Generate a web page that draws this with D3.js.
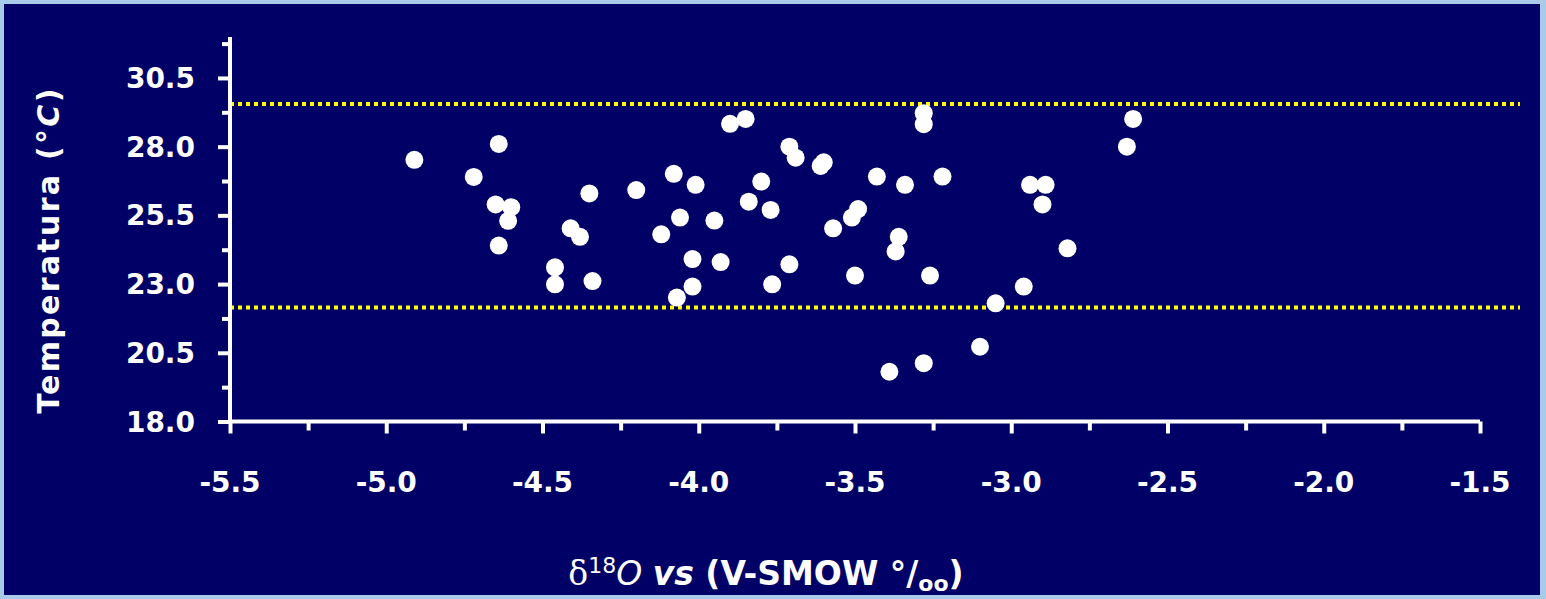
<!DOCTYPE html>
<html>
<head>
<meta charset="utf-8">
<script src="https://cdn.jsdelivr.net/npm/d3@7"></script>
<style>
  html, body { margin: 0; padding: 0; background: #a9cbe9; }
  svg { display: block; }
</style>
</head>
<body>
<svg id="chart" width="1546" height="599"></svg>
<script>
// ---- data ----
const d18O = [
  -4.91, -4.72, -4.64, -4.65, -4.60, -4.61, -4.64, -4.46, -4.46, -4.35,
  -4.34, -4.41, -4.38, -4.20, -4.08, -4.01, -4.06, -4.12, -3.95, -4.02,
  -3.93, -4.02, -4.07, -3.90, -3.85, -3.80, -3.84, -3.77, -3.765, -3.71,
  -3.69, -3.60, -3.61, -3.71, -3.43, -3.34, -3.22, -3.49, -3.51, -3.57,
  -3.36, -3.37, -3.50, -3.26, -3.28, -3.28, -2.61, -2.63, -2.94, -2.89,
  -2.90, -2.82, -2.96, -3.05, -3.10, -3.28, -3.39
];
const temperature = [
  27.52, 26.90, 28.10, 25.90, 25.80, 25.30, 24.40, 23.61, 22.99, 26.30,
  23.11, 25.03, 24.72, 26.42, 27.01, 26.61, 25.42, 24.81, 25.31, 23.91,
  23.80, 22.91, 22.51, 28.83, 29.01, 26.73, 26.00, 25.70, 22.99, 28.00,
  27.60, 27.43, 27.30, 23.72, 26.91, 26.61, 26.91, 25.73, 25.42, 25.03,
  24.72, 24.19, 23.31, 23.31, 29.22, 28.82, 29.01, 28.00, 26.61, 26.61,
  25.90, 24.30, 22.91, 22.30, 20.72, 20.12, 19.81
];
const xTickLabels = ["-5.5", "-5.0", "-4.5", "-4.0", "-3.5", "-3.0", "-2.5", "-2.0", "-1.5"];
const yTickLabels = ["18.0", "20.5", "23.0", "25.5", "28.0", "30.5"];
const thresholds = [29.55, 22.15];

// ---- layout ----
const svg = d3.select("#chart");
const plotLeft = 230, plotRight = 1480, plotTop = 43.6, plotBottom = 421.5;
const FONT = "'Comic Sans MS', 'DejaVu Sans', sans-serif";

svg.append("rect").attr("x", 4).attr("y", 4).attr("width", 1536).attr("height", 591)
  .attr("fill", "#000066");

const x = d3.scaleLinear().domain([-5.5, -1.5]).range([plotLeft, plotRight]);
const y = d3.scaleLinear().domain([18, 31.75]).range([plotBottom, plotTop]);

const g = svg.append("g");

// threshold dotted lines
g.selectAll("line.thr").data(thresholds).enter().append("line")
  .attr("class", "thr")
  .attr("x1", plotLeft).attr("x2", 1520)
  .attr("y1", d => y(d)).attr("y2", d => y(d))
  .attr("stroke", "#ffff00").attr("stroke-width", 4)
  .attr("stroke-dasharray", "4,4");

// points
const pts = d18O.map((v, i) => ({ x: v, y: temperature[i] }));
g.selectAll("circle.pt").data(pts).enter().append("circle")
  .attr("class", "pt")
  .attr("cx", d => x(d.x)).attr("cy", d => y(d.y)).attr("r", 9)
  .attr("fill", "#ffffff");

// x axis
const xMinor = d3.range(-5.5, -1.49, 0.25);
const xAxis = d3.axisBottom(x).tickValues(xMinor).tickSize(9).tickFormat("");
const gx = svg.append("g").attr("transform", `translate(0,${plotBottom})`).call(xAxis);
gx.select(".domain").attr("stroke", "#fff").attr("stroke-width", 4)
  .attr("d", `M${plotLeft},0H${plotRight}`);
gx.selectAll(".tick line").attr("stroke", "#fff").attr("stroke-width", 4)
  .attr("y2", (d) => Math.abs((d * 2) - Math.round(d * 2)) < 1e-6 ? 12 : 9);

svg.append("g").selectAll("text").data(xTickLabels).enter().append("text")
  .attr("x", d => x(+d)).attr("y", 492)
  .attr("text-anchor", "middle")
  .attr("fill", "#fff").attr("font-family", FONT).attr("font-weight", "bold")
  .attr("font-size", 28).text(d => d);

// y axis
const yMinor = d3.range(18, 31.76, 1.25);
const yAxis = d3.axisLeft(y).tickValues(yMinor).tickSize(8).tickFormat("");
const gy = svg.append("g").attr("transform", `translate(${plotLeft},0)`).call(yAxis);
gy.select(".domain").attr("stroke", "#fff").attr("stroke-width", 4)
  .attr("d", `M0,37V${plotBottom}`);
gy.selectAll(".tick line").attr("stroke", "#fff").attr("stroke-width", 4)
  .attr("x2", (d, i) => i % 2 === 0 ? -12 : -8);

svg.append("g").selectAll("text").data(yTickLabels).enter().append("text")
  .attr("x", 195).attr("y", d => y(+d) + 10)
  .attr("text-anchor", "end")
  .attr("fill", "#fff").attr("font-family", FONT).attr("font-weight", "bold")
  .attr("font-size", 28).text(d => d);

// y title
const yt = svg.append("text")
  .attr("transform", "translate(59,250) rotate(-90)")
  .attr("text-anchor", "middle")
  .attr("fill", "#fff").attr("font-family", FONT).attr("font-weight", "bold")
  .attr("font-size", 30).attr("letter-spacing", 2.3);
yt.append("tspan").text("Temperatura (°");
yt.append("tspan").attr("font-style", "italic").text("C");
yt.append("tspan").text(")");

// x title
const xt = svg.append("text")
  .attr("x", 766).attr("y", 585)
  .attr("text-anchor", "middle")
  .attr("fill", "#fff").attr("font-family", FONT).attr("font-weight", "bold")
  .attr("font-size", 33);
xt.append("tspan").attr("font-family", "'DejaVu Serif', serif").attr("font-weight", "normal").text("δ");
xt.append("tspan").attr("font-size", 22).attr("font-weight", "normal").attr("dy", -12).text("18");
xt.append("tspan").attr("font-style", "italic").attr("dy", 12).attr("font-weight", "normal").text("O ");
xt.append("tspan").attr("font-style", "italic").text("vs");
xt.append("tspan").text(" (V-SMOW °/");
xt.append("tspan").attr("font-size", 22).attr("dy", 6).text("oo");
xt.append("tspan").attr("dy", -6).text(")");
</script>
</body>
</html>
